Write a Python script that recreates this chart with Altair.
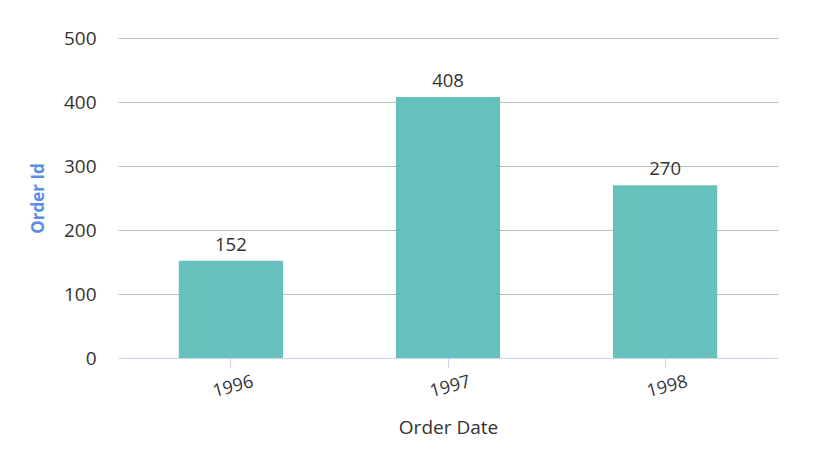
import altair as alt
import pandas as pd

years = ["1996", "1997", "1998"]
orders = [152, 408, 270]

df = pd.DataFrame({"year": years, "orders": orders})

FONT = "Open Sans"

base = alt.Chart(df).encode(
    x=alt.X("year:N", sort=years,
            scale=alt.Scale(paddingInner=0.52, paddingOuter=0.28),
            axis=alt.Axis(title="Order Date", labelAngle=-15, labelFontSize=18,
                          labelAlign="center", labelBaseline="top",
                          labelColor="#333333", labelFont=FONT, labelPadding=10,
                          titleFont=FONT, titleFontSize=19, titleColor="#333333",
                          titleFontWeight="normal", titlePadding=18,
                          domainColor="#ccd6eb", tickColor="#ccd6eb", tickSize=10,
                          grid=False)),
    y=alt.Y("orders:Q",
            scale=alt.Scale(domain=[0, 500]),
            axis=alt.Axis(title="Order Id", values=[0, 100, 200, 300, 400, 500],
                          labelFontSize=19, labelColor="#333333", labelFont=FONT,
                          labelPadding=22, titleFont=FONT, titleFontSize=17,
                          titleColor="#5b8def", titleFontWeight="bold",
                          titlePadding=16, domain=False, ticks=False,
                          gridColor="#bdbdbd", gridWidth=1)),
)

bars = base.mark_bar(color="#66c0bc")
labels = base.mark_text(dy=-16, fontSize=18.5, color="#333333", font=FONT).encode(
    text="orders:Q")

chart = (bars + labels).properties(
    width=660, height=320,
    padding={"left": 110, "top": 30, "right": 37, "bottom": 104},
    autosize="none",
).configure_view(stroke=None)

chart.save("out.html", embed_options={"renderer": "svg", "actions": False})
